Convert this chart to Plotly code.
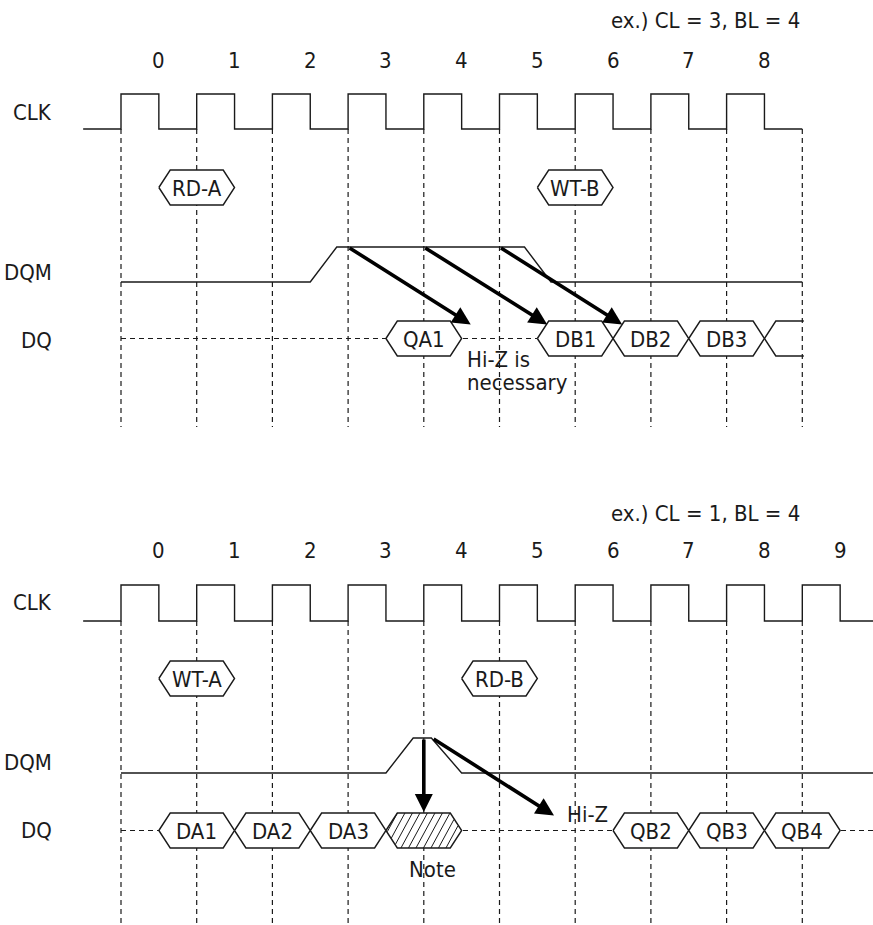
import plotly.graph_objects as go

# ---------------- data ----------------
top_title = "ex.) CL = 3, BL = 4"
top_cycle_labels = ["0", "1", "2", "3", "4", "5", "6", "7", "8"]
top_cmd_labels = ["RD-A", "WT-B"]
top_cmd_cycles = [1, 6]
top_dqm_t = [0, 2.5, 2.85, 5.33, 5.68, 9]
top_dqm_level = [0, 0, 1, 1, 0, 0]
top_dq_labels = ["QA1", "DB1", "DB2", "DB3"]
top_dq_cycles = [4, 6, 7, 8]
top_dq_open_start = 8.5
top_arrow_from = [3, 4, 5]
top_arrow_to = [4.62, 5.63, 6.62]

bot_title = "ex.) CL = 1, BL = 4"
bot_cycle_labels = ["0", "1", "2", "3", "4", "5", "6", "7", "8", "9"]
bot_cmd_labels = ["WT-A", "RD-B"]
bot_cmd_cycles = [1, 5]
bot_dqm_t = [0, 3.5, 3.86, 4.1, 4.5, 10.5]
bot_dqm_level = [0, 0, 1, 1, 0, 0]
bot_dq_labels = ["DA1", "DA2", "DA3", "QB2", "QB3", "QB4"]
bot_dq_cycles = [1, 2, 3, 7, 8, 9]
bot_note_cycle = 4
bot_arrow_from = [4, 4.11]
bot_arrow_to = [4, 5.72]

row_names = ["CLK", "DQM", "DQ"]

# ---------------- layout constants ----------------
W, H = 873, 925
PX_PER_CYCLE = 75.7
X0_PX = 121
XR = [-X0_PX / PX_PER_CYCLE, (W - X0_PX) / PX_PER_CYCLE]
FONT = "Liberation Sans Narrow, DejaVu Sans Condensed, Arial Narrow, Liberation Sans, sans-serif"
FS = 22
INK = "#1a1a1a"
LW = 1.4
HEX_H = 17.5
HEX_W = 0.5
HEX_IN = 0.15
HATCH_STEP = 7.5 / PX_PER_CYCLE     # hatch spacing (cycles)
HATCH_SLANT = 19 / PX_PER_CYCLE     # horizontal run of one hatch line over full height

TOP = dict(title_y=20, num_y=60, clk_hi=94, clk_lo=129, cmd_y=187.5,
           dqm_hi=247, dqm_lo=282, dq_y=338.5, grid_top=129, grid_bot=427,
           lab_y=[112, 272, 340], clk_end=9, grid_end=9)
BOT = dict(title_y=513, num_y=550, clk_hi=585, clk_lo=621, cmd_y=678.5,
           dqm_hi=738, dqm_lo=773, dq_y=830.5, grid_top=621, grid_bot=925,
           lab_y=[602, 762, 830], clk_end=10.5, grid_end=9)

fig = go.Figure()
annotations = []


def line(xs, ys, dash=None, width=LW):
    fig.add_trace(go.Scatter(x=xs, y=ys, mode="lines", hoverinfo="skip",
                             line=dict(color=INK, width=width, dash=dash),
                             showlegend=False))


def hex_pts(c, yc):
    xs = [c - HEX_W, c - HEX_W + HEX_IN, c + HEX_W - HEX_IN, c + HEX_W,
          c + HEX_W - HEX_IN, c - HEX_W + HEX_IN, c - HEX_W]
    ys = [yc, yc - HEX_H, yc - HEX_H, yc, yc + HEX_H, yc + HEX_H, yc]
    return xs, ys


def inside_x_range(c, yc, y):
    # horizontal extent of the hexagon at height y
    d = abs(y - yc) / HEX_H
    half = HEX_W - HEX_IN * d
    return c - half, c + half


def hatch(c, yc):
    hx, hy = [], []
    n_sub = 60
    k = -6
    while True:
        base = c - HEX_W + k * HATCH_STEP      # x at bottom edge
        if base > c + HEX_W:
            break
        seg = []
        for i in range(n_sub + 1):
            y = yc + HEX_H - 2 * HEX_H * i / n_sub
            x = base + HATCH_SLANT * i / n_sub
            lo, hi = inside_x_range(c, yc, y)
            if lo <= x <= hi:
                seg.append((x, y))
        if len(seg) >= 2:
            hx += [seg[0][0], seg[-1][0], None]
            hy += [seg[0][1], seg[-1][1], None]
        k += 1
    fig.add_trace(go.Scatter(x=hx, y=hy, mode="lines", hoverinfo="skip",
                             line=dict(color=INK, width=1.0), showlegend=False))


def hexagon(c, yc, label=None, hatched=False):
    xs, ys = hex_pts(c, yc)
    fig.add_trace(go.Scatter(x=xs, y=ys, mode="lines", fill="toself",
                             fillcolor="white", hoverinfo="skip",
                             line=dict(color=INK, width=LW), showlegend=False))
    if hatched:
        hatch(c, yc)
    if label:
        text(c, yc + 1, label)


def text(x, y, s, xanchor="center"):
    annotations.append(dict(x=x, y=y, xref="x", yref="y", text=s, showarrow=False,
                            xanchor=xanchor, yanchor="middle",
                            font=dict(family=FONT, size=FS, color=INK)))


def arrow(x0, y0, x1, y1):
    annotations.append(dict(x=x1, y=y1, ax=x0, ay=y0, xref="x", yref="y",
                            axref="x", ayref="y", text="", showarrow=True,
                            arrowhead=2, arrowsize=1.0, arrowwidth=3.6,
                            arrowcolor="black", standoff=0))


def panel(P, title, cyc_labels, cmd_labels, cmd_cycles, dqm_t, dqm_lvl):
    n = len(cyc_labels)
    text(9, P["title_y"], title, xanchor="right")
    for k, lab in enumerate(cyc_labels):
        text(k + 0.5, P["num_y"], lab)
    for name, y in zip(row_names, P["lab_y"]):
        text(-0.88, y, name, xanchor="right")
    gx, gy = [], []
    for k in range(P["grid_end"] + 1):
        gx += [k, k, None]
        gy += [P["grid_top"], P["grid_bot"], None]
    line(gx, gy, dash="5px,4px", width=1.2)
    cx, cy = [-0.5], [P["clk_lo"]]
    for k in range(n):
        cx += [k, k, k + 0.5, k + 0.5]
        cy += [P["clk_lo"], P["clk_hi"], P["clk_hi"], P["clk_lo"]]
    cx.append(P["clk_end"])
    cy.append(P["clk_lo"])
    line(cx, cy)
    line(dqm_t, [P["dqm_hi"] if v else P["dqm_lo"] for v in dqm_lvl])
    for lab, c in zip(cmd_labels, cmd_cycles):
        hexagon(c, P["cmd_y"], lab)


# ---------- top panel ----------
panel(TOP, top_title, top_cycle_labels, top_cmd_labels, top_cmd_cycles,
      top_dqm_t, top_dqm_level)
line([0, top_dq_cycles[1] - HEX_W], [TOP["dq_y"]] * 2, dash="5px,4px", width=1.2)
for lab, c in zip(top_dq_labels, top_dq_cycles):
    hexagon(c, TOP["dq_y"], lab)
s = top_dq_open_start
line([TOP["clk_end"] + 0.02, s + HEX_IN, s, s + HEX_IN, TOP["clk_end"] + 0.02],
     [TOP["dq_y"] - HEX_H, TOP["dq_y"] - HEX_H, TOP["dq_y"], TOP["dq_y"] + HEX_H,
      TOP["dq_y"] + HEX_H])
for a, b in zip(top_arrow_from, top_arrow_to):
    arrow(a, TOP["dqm_hi"], b, TOP["dq_y"] - 14)
text(4.54, 359, "Hi-Z is", xanchor="left")
text(4.54, 382, "necessary", xanchor="left")

# ---------- bottom panel ----------
panel(BOT, bot_title, bot_cycle_labels, bot_cmd_labels, bot_cmd_cycles,
      bot_dqm_t, bot_dqm_level)
line([0, 10.5], [BOT["dq_y"]] * 2, dash="5px,4px", width=1.2)
for lab, c in zip(bot_dq_labels, bot_dq_cycles):
    hexagon(c, BOT["dq_y"], lab)
hexagon(bot_note_cycle, BOT["dq_y"], None, hatched=True)
text(bot_note_cycle + 0.12, 869, "Note")
arrow(bot_arrow_from[0], BOT["dqm_hi"], bot_arrow_to[0], BOT["dq_y"] - HEX_H - 1)
arrow(bot_arrow_from[1], BOT["dqm_hi"], bot_arrow_to[1], BOT["dq_y"] - 15)
text(5.87, 814, "Hi-Z", xanchor="left")

fig.update_layout(
    width=W, height=H, margin=dict(l=0, r=0, t=0, b=0),
    paper_bgcolor="white", plot_bgcolor="white",
    xaxis=dict(range=XR, visible=False, fixedrange=True),
    yaxis=dict(range=[H, 0], visible=False, fixedrange=True),
    annotations=annotations, showlegend=False,
)

fig.write_html("out.html", config={"displayModeBar": False, "staticPlot": True},
               post_script="document.body.style.margin='0';document.body.style.overflow='hidden';")
